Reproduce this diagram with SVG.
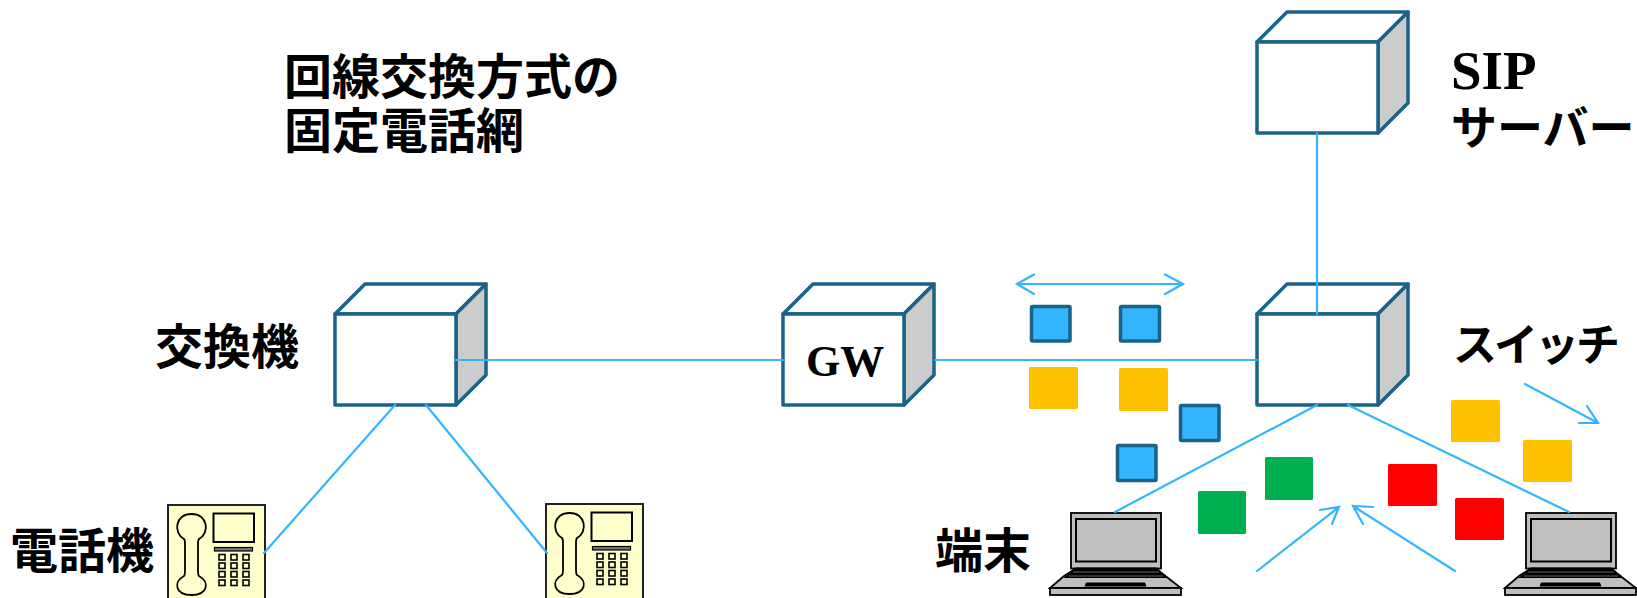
<svg xmlns="http://www.w3.org/2000/svg" width="1637" height="598" viewBox="0 0 1637 598">
<style>
.t{font-family:"Liberation Serif","Noto Sans CJK JP",serif;font-weight:700;font-size:48px;fill:#000}
.front{fill:#fff;stroke:#1A6288;stroke-width:3.5;stroke-linejoin:round}
.side{fill:#CCCCCC;stroke:#1A6288;stroke-width:3.5;stroke-linejoin:round}
.con{fill:none;stroke:#33B5FF;stroke-width:2.200;stroke-linecap:round;stroke-linejoin:miter}
.pkt{stroke:#1A6288;stroke-width:3.500;fill:#33B5FF}
.or{fill:#FFC000}.rd{fill:#FF0000}.gr{fill:#00B050}
.k{fill:none;stroke:#000;stroke-width:1.600}
</style>
<defs>
<g id="cube">
<path class="front" d="M0 0L30 -30H151L121 0Z"/>
<path class="side" d="M121 0L151 -30V61L121 91Z"/>
<rect class="front" x="0" y="0" width="121" height="91"/>
</g>
<g id="phone">
<rect x="0" y="0" width="97" height="96" fill="#FFFFCC" stroke="#222" stroke-width="2"/>
<path d="M16 34C5 28 7 9 23.500 9C40 9 42 28 31 34C30 35 30 37 30 39V66C30 68 30 70 31 71C42 77 40 90 23.500 90C7 90 5 77 16 71C17 70 17 68 17 66V39C17 37 17 35 16 34Z" fill="none" stroke="#000" stroke-width="1.800"/>
<rect x="45.500" y="8.500" width="40.500" height="28.500" fill="none" stroke="#000" stroke-width="2"/>
<rect x="46.500" y="42.500" width="38" height="3.500" fill="#777" stroke="#000" stroke-width="1.200"/>
<rect class="k" x="51" y="49.500" width="6" height="5.500"/><rect class="k" x="63" y="49.500" width="6" height="5.500"/><rect class="k" x="75" y="49.500" width="6" height="5.500"/>
<rect class="k" x="51" y="58" width="6" height="5.500"/><rect class="k" x="63" y="58" width="6" height="5.500"/><rect class="k" x="75" y="58" width="6" height="5.500"/>
<rect class="k" x="51" y="66.500" width="6" height="5.500"/><rect class="k" x="63" y="66.500" width="6" height="5.500"/><rect class="k" x="75" y="66.500" width="6" height="5.500"/>
<rect class="k" x="51" y="75" width="6" height="5.500"/><rect class="k" x="63" y="75" width="6" height="5.500"/><rect class="k" x="75" y="75" width="6" height="5.500"/>
</g>
<g id="laptop">
<rect x="1" y="1" width="90" height="55.500" fill="#BFBFBF" stroke="#000" stroke-width="1.800"/>
<rect x="6" y="7" width="80" height="42.500" fill="#BFBFBF" stroke="#000" stroke-width="2"/>
<path d="M-20 76L-6 64L6 56.500H86L98 66L111 76Z" fill="#BFBFBF" stroke="#000" stroke-width="1.800"/>
<path d="M-7 66L6 56.500H86L98 66Z" fill="#000"/>
<path d="M3 60H89M-1 64H93" stroke="#666" stroke-width="1" fill="none"/>
<path d="M16 70.500H75L76.500 74.500H14.500Z" fill="#000"/>
<rect x="-20" y="76" width="131" height="7" fill="#BFBFBF" stroke="#000" stroke-width="1.800"/>
</g>
</defs>
<g transform="translate(0 1)">
<g id="title"><text class="t" x="284" y="93">回線交換方式の</text><text class="t" x="284" y="147">固定電話網</text></g>
<g id="exchange"><use href="#cube" x="335" y="313"/><text class="t" x="155" y="363">交換機</text></g>
<g id="gw"><use href="#cube" x="783" y="313"/><text class="t" x="806" y="375" style="font-size:44px">GW</text></g>
<g id="switch"><use href="#cube" x="1257" y="313"/><text class="t" x="1453" y="360" style="font-size:44px;letter-spacing:-3px">スイッチ</text></g>
<g id="sip"><use href="#cube" x="1257" y="41"/><text class="t" x="1451" y="88" style="font-size:55px">SIP</text><text class="t" x="1451" y="143" style="font-size:46px">サーバー</text></g>
<g id="phone1"><use href="#phone" x="168" y="504"/><text class="t" x="10" y="567">電話機</text></g>
<g id="phone2"><use href="#phone" x="546" y="503"/></g>
<g id="laptop1"><use href="#laptop" x="1070" y="511"/><text class="t" x="935" y="567">端末</text></g>
<g id="laptop2"><use href="#laptop" x="1525" y="511"/></g>
<g id="connectors">
<path class="con" d="M456 359H783M935 359H1257M1317 132V313M395 404L264 552M426 404L547 552M1317 404L1115 511M1348 404L1569 511"/>
<path class="con" d="M1017 283H1183M1034 273.500L1017 283L1034 293M1165 273.500L1183 283L1165 293"/>
<path class="con" d="M1525 383L1598 422M1587 405L1598 422L1579 422"/>
<path class="con" d="M1455 570L1353 505M1373 506L1353 505L1363 523"/>
<path class="con" d="M1257 570L1339 506M1320 509L1339 506L1332 523"/>
</g>
<g id="packets">
<rect class="pkt" x="1031.500" y="305.500" width="38.500" height="34.500" rx="1"/>
<rect class="pkt" x="1120.500" y="305.500" width="39" height="34.500" rx="1"/>
<rect class="pkt" x="1180.500" y="404.500" width="38.500" height="35" rx="1"/>
<rect class="pkt" x="1117.500" y="444.500" width="38.500" height="35" rx="1"/>
<rect class="or" x="1029" y="366" width="49" height="42" rx="1.500"/>
<rect class="or" x="1119" y="367" width="49" height="43" rx="1.500"/>
<rect class="or" x="1451" y="399" width="49" height="42" rx="1.500"/>
<rect class="or" x="1523" y="439" width="49" height="42" rx="1.500"/>
<rect class="rd" x="1388" y="463" width="49" height="42" rx="1.500"/>
<rect class="rd" x="1455" y="497" width="49" height="42" rx="1.500"/>
<rect class="gr" x="1198" y="490" width="48" height="43" rx="1.500"/>
<rect class="gr" x="1265" y="456" width="48" height="43" rx="1.500"/>
</g>
</g>
</svg>
